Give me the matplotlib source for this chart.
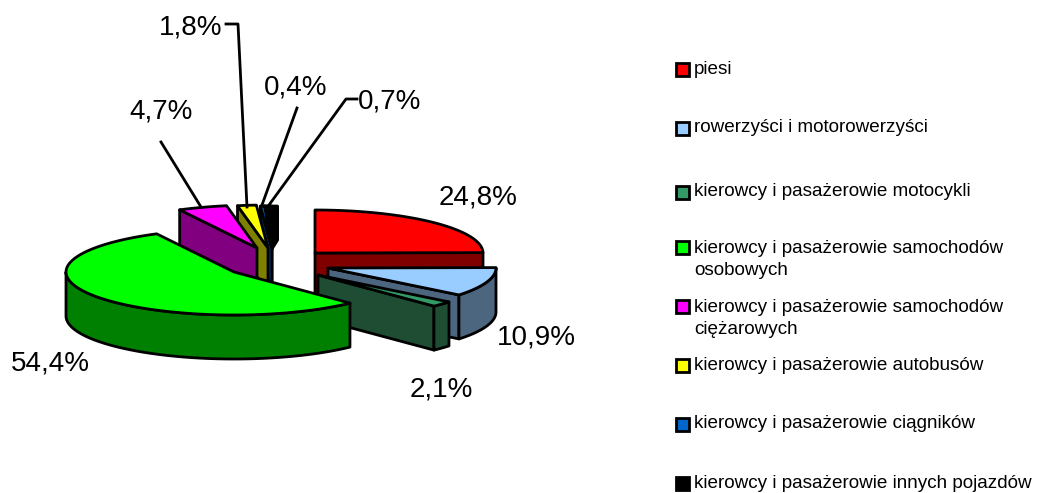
import numpy as np
import matplotlib
matplotlib.use("Agg")
import matplotlib.pyplot as plt
from matplotlib.patches import Rectangle

plt.rcParams['font.family'] = ['Liberation Sans', 'DejaVu Sans']

categories = ["piesi", "rowerzyści i motorowerzyści", "kierowcy i pasażerowie motocykli",
              "kierowcy i pasażerowie samochodów\nosobowych",
              "kierowcy i pasażerowie samochodów\nciężarowych",
              "kierowcy i pasażerowie autobusów", "kierowcy i pasażerowie ciągników",
              "kierowcy i pasażerowie innych pojazdów"]
values = [24.8, 10.9, 2.1, 54.4, 4.7, 1.8, 0.4, 0.7]
pct_labels = ["24,8%", "10,9%", "2,1%", "54,4%", "4,7%", "1,8%", "0,4%", "0,7%"]
top_colors = ["#FF0000", "#99CCFF", "#339966", "#00FF00", "#FF00FF", "#FFFF00", "#0066CC", "#000000"]
side_colors = ["#800000", "#4C6680", "#1F4D33", "#008000", "#800080", "#808000", "#003366", "#000000"]

# layout (pixels)
W, H = 1061, 493
CX, CY = 315, 253
RX, RY, DEPTH = 168, 43, 44
apex_offsets = [(0, 0), (13, 15), (3, 22), (-81, 19), (-58, -5), (-47, -5), (-43, -4), (-43, -4)]
draw_order = [7, 6, 5, 4, 0, 1, 2, 3]
label_pos = [(478, 198), (536, 337), (441, 390), (50, 363), (161, 112), (191, 28), (296, 87), (390, 101)]
leaders = {4: [(161, 142), (201, 207)], 5: [(226, 24), (238, 24), (247, 207)],
           6: [(297, 108), (262, 205)], 7: [(357, 99), (346, 99), (269, 205)]}
legend_rows = [69, 128, 192, 247, 306, 365, 424, 483]
LW = 2.0

fig = plt.figure(figsize=(W / 100, H / 100), dpi=100, facecolor="white")
ax = fig.add_axes([0, 0, 1, 1])
ax.set_xlim(0, W)
ax.set_ylim(H, 0)
ax.axis("off")

fractions = np.array(values) / sum(values)
bounds = np.concatenate([[0], np.cumsum(fractions)]) * 2 * np.pi


def rim(apex, t):
    t = np.asarray(t)
    return apex[0] + RX * np.sin(t), apex[1] - RY * np.cos(t)


def poly(xs, ys, color, z):
    ax.fill(xs, ys, facecolor=color, edgecolor="black", linewidth=LW, joinstyle="round", zorder=z)


z = 1
for i in draw_order:
    a0, a1 = bounds[i], bounds[i + 1]
    apex = (CX + apex_offsets[i][0], CY + apex_offsets[i][1])
    ts = np.linspace(a0, a1, 90)
    rx, ry = rim(apex, ts)
    mx, my = rim(apex, (a0 + a1) / 2)
    mx = (mx + apex[0]) / 2
    my = (my + apex[1]) / 2

    if i == 7:  # back panel of the thin last slice, as drawn in the reference
        poly([rx[0], rx[0] + 13, rx[0] + 13, apex[0]], [ry[0], ry[0], ry[0] + 34, apex[1]],
             side_colors[i], z)
        z += 1

    # flat side walls that face the viewer
    for t in (a0, a1):
        ex, ey = rim(apex, t)
        cross = (ex - apex[0]) * (my - apex[1]) - (ey - apex[1]) * (mx - apex[0])
        above = cross < 0 if ex > apex[0] else cross > 0
        if abs(ex - apex[0]) > 1 and above:
            poly([apex[0], ex, ex, apex[0]], [apex[1], ey, ey + DEPTH, apex[1] + DEPTH],
                 side_colors[i], z)
            z += 1

    # outer wall on the near half of the rim
    lo, hi = max(a0, np.pi / 2), min(a1, 3 * np.pi / 2)
    if hi > lo:
        tw = np.linspace(lo, hi, 120)
        wx, wy = rim(apex, tw)
        poly(np.r_[wx, wx[::-1]], np.r_[wy, wy[::-1] + DEPTH], side_colors[i], z)
        z += 1

    poly(np.r_[apex[0], rx], np.r_[apex[1], ry], top_colors[i], z)
    z += 1

for pts in leaders.values():
    xs, ys = zip(*pts)
    ax.plot(xs, ys, color="black", lw=LW, zorder=z)

for (x, y), s in zip(label_pos, pct_labels):
    ax.text(x, y, s, ha="center", va="center", fontsize=20, color="black", zorder=z + 1)

for y, name, col in zip(legend_rows, categories, top_colors):
    text_y = y + 12.5 if "\n" in name else y
    ax.add_patch(Rectangle((676, y - 6.5), 13, 13, facecolor=col, edgecolor="black",
                           linewidth=LW, zorder=z))
    ax.text(694, text_y, name, ha="left", va="center", fontsize=13.6, linespacing=1.32,
            color="black", zorder=z)

fig.savefig("out.png", dpi=100, facecolor="white")
